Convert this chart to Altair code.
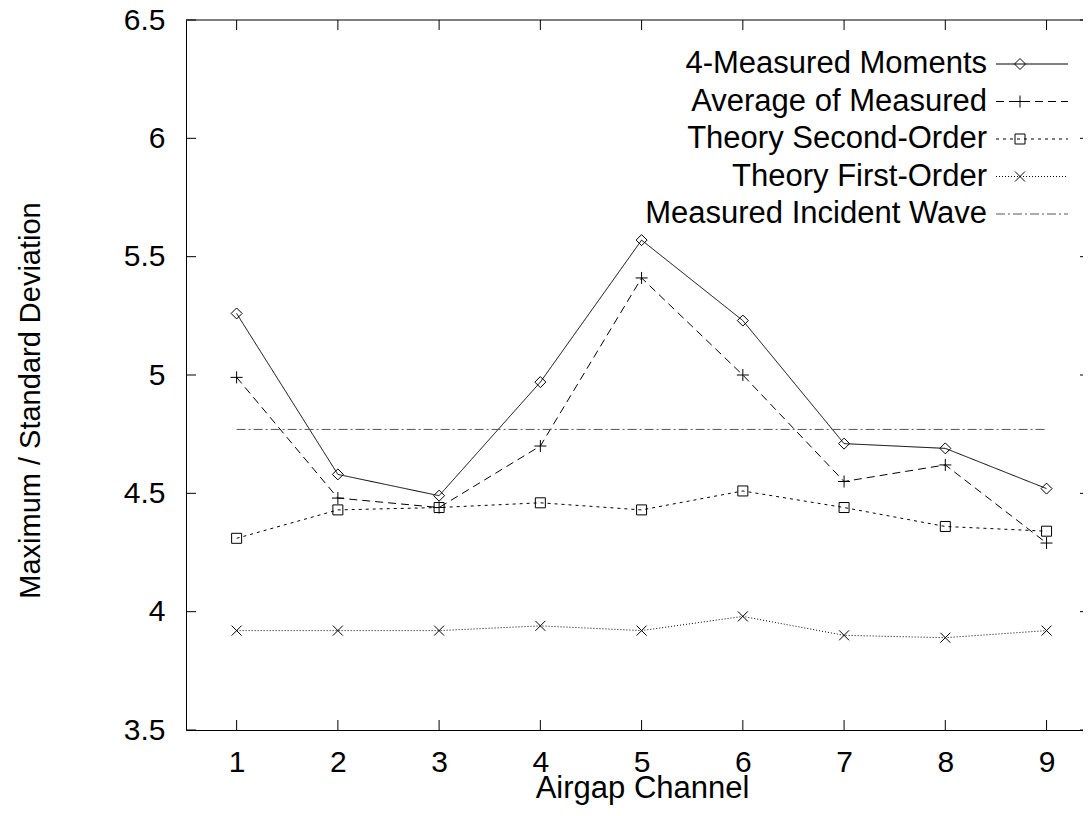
import altair as alt
import pandas as pd

# ---------------- data ----------------
channels = [1, 2, 3, 4, 5, 6, 7, 8, 9]
measured_moments = [5.26, 4.58, 4.49, 4.97, 5.57, 5.23, 4.71, 4.69, 4.52]
average_measured = [4.99, 4.48, 4.44, 4.70, 5.41, 5.00, 4.55, 4.62, 4.29]
theory_second = [4.31, 4.43, 4.44, 4.46, 4.43, 4.51, 4.44, 4.36, 4.34]
theory_first = [3.92, 3.92, 3.92, 3.94, 3.92, 3.98, 3.90, 3.89, 3.92]
incident_channels = [1, 9]
incident_wave = [4.77, 4.77]

series_names = [
    "4-Measured Moments",
    "Average of Measured",
    "Theory Second-Order",
    "Theory First-Order",
    "Measured Incident Wave",
]
x_ticks = [1, 2, 3, 4, 5, 6, 7, 8, 9]
y_ticks = [3.5, 4.0, 4.5, 5.0, 5.5, 6.0, 6.5]
x_domain = [0.5, 9.36]
y_domain = [3.5, 6.5]

# ---------------- styling ----------------
FONT = "Liberation Sans"
W, H = 897, 710

DIAMOND = "diamond"
SQUARE = "square"
PLUS = "M-1,0L1,0M0,-1L0,1"
CROSS = "M-1,-1L1,1M-1,1L1,-1"

styles = [
    dict(dash=[1, 0], shape=DIAMOND, size=121, color="black"),
    dict(dash=[8, 5], shape=PLUS, size=144, color="black"),
    dict(dash=[3, 4], shape=SQUARE, size=100, color="black"),
    dict(dash=[1, 2], shape=CROSS, size=100, color="black"),
    dict(dash=[9, 3, 2, 3], shape=None, size=0, color="#555555"),
]
series_values = [measured_moments, average_measured, theory_second, theory_first]

xs = alt.Scale(domain=x_domain, nice=False, zero=False)
ys = alt.Scale(domain=y_domain, nice=False, zero=False)

x_axis = alt.Axis(
    values=x_ticks, format="d", ticks=False, domain=True, grid=False,
    labelPadding=17, labelOverlap=False, title="Airgap Channel",
    titleFontSize=31, titleX=456, titleY=67, titleAlign="center",
    titleBaseline="alphabetic",
)
y_axis = alt.Axis(
    values=y_ticks, format="~g", ticks=False, domain=True, grid=False,
    labelPadding=21, labelOverlap=False, title="Maximum / Standard Deviation",
    titleFontSize=29, titleX=-147, titleY=380, titleAngle=270,
    titleAlign="center", titleBaseline="alphabetic",
)

layers = []
for i, vals in enumerate(series_values):
    st = styles[i]
    df = pd.DataFrame({"channel": channels, "value": vals})
    base = alt.Chart(df).encode(
        x=alt.X("channel:Q", scale=xs, axis=x_axis),
        y=alt.Y("value:Q", scale=ys, axis=y_axis),
    )
    layers.append(base.mark_line(color=st["color"], strokeWidth=1, strokeDash=st["dash"]))
    layers.append(base.mark_point(shape=st["shape"], size=st["size"], filled=False,
                                  color="black", strokeWidth=1, opacity=1))

# incident wave line
inc_df = pd.DataFrame({"channel": incident_channels, "value": incident_wave})
layers.append(
    alt.Chart(inc_df).mark_line(color=styles[4]["color"], strokeWidth=1,
                                strokeDash=styles[4]["dash"]).encode(
        x=alt.X("channel:Q", scale=xs, axis=x_axis),
        y=alt.Y("value:Q", scale=ys, axis=y_axis),
    )
)

# top border
layers.append(
    alt.Chart(pd.DataFrame({"a": [0]})).mark_rule(color="black", strokeWidth=1).encode(
        x=alt.XDatum(x_domain[0], scale=xs, axis=x_axis),
        x2=alt.X2Datum(x_domain[1]),
        y=alt.YDatum(y_domain[1], scale=ys, axis=y_axis),
    )
)

# inward ticks
xt = pd.DataFrame({"t": x_ticks})
yt = pd.DataFrame({"t": y_ticks})
layers.append(
    alt.Chart(xt).mark_rule(color="black", strokeWidth=1, y2Offset=-10).encode(
        x=alt.X("t:Q", scale=xs, axis=x_axis),
        y=alt.YDatum(y_domain[0], scale=ys, axis=y_axis),
        y2=alt.Y2Datum(y_domain[0]),
    )
)
layers.append(
    alt.Chart(xt).mark_rule(color="black", strokeWidth=1, y2Offset=10).encode(
        x=alt.X("t:Q", scale=xs, axis=x_axis),
        y=alt.YDatum(y_domain[1], scale=ys, axis=y_axis),
        y2=alt.Y2Datum(y_domain[1]),
    )
)
layers.append(
    alt.Chart(yt).mark_rule(color="black", strokeWidth=1, x2Offset=10).encode(
        y=alt.Y("t:Q", scale=ys, axis=y_axis),
        x=alt.XDatum(x_domain[0], scale=xs, axis=x_axis),
        x2=alt.X2Datum(x_domain[0]),
    )
)
layers.append(
    alt.Chart(yt).mark_rule(color="black", strokeWidth=1, x2Offset=-3).encode(
        y=alt.Y("t:Q", scale=ys, axis=y_axis),
        x=alt.XDatum(x_domain[1], scale=xs, axis=x_axis),
        x2=alt.X2Datum(x_domain[1]),
    )
)

# manual legend (labels left, samples right, gnuplot style)
row_y0, row_dy = 44, 37.5
text_x, line_x1, line_x2, pt_x = 801, 810, 882, 834
for i, name in enumerate(series_names):
    st = styles[i]
    yp = row_y0 + row_dy * i
    ldf = pd.DataFrame({"name": [name]})
    layers.append(
        alt.Chart(ldf).mark_text(align="right", baseline="middle", font=FONT,
                                 fontSize=31, color="black").encode(
            text="name:N", x=alt.value(text_x), y=alt.value(yp)
        )
    )
    layers.append(
        alt.Chart(ldf).mark_rule(color=st["color"], strokeWidth=1,
                                 strokeDash=st["dash"]).encode(
            x=alt.value(line_x1), x2=alt.value(line_x2), y=alt.value(yp)
        )
    )
    if st["shape"] is not None:
        layers.append(
            alt.Chart(ldf).mark_point(shape=st["shape"], size=st["size"], filled=False,
                                      color="black", strokeWidth=1, opacity=1).encode(
                x=alt.value(pt_x), y=alt.value(yp)
            )
        )

chart = (
    alt.layer(*layers)
    .properties(
        width=W, height=H,
        autosize=alt.AutoSizeParams(type="none"),
        padding={"left": 178, "top": 12, "right": 0, "bottom": 75},
        background="white",
    )
    .configure_view(stroke=None)
    .configure_axis(
        labelFont=FONT, titleFont=FONT, labelFontSize=30, titleFontSize=30,
        labelColor="black", titleColor="black", titleFontWeight="normal",
        domainColor="black", domainWidth=1,
    )
)

chart.save("out.html", embed_options={"renderer": "svg", "actions": False})
